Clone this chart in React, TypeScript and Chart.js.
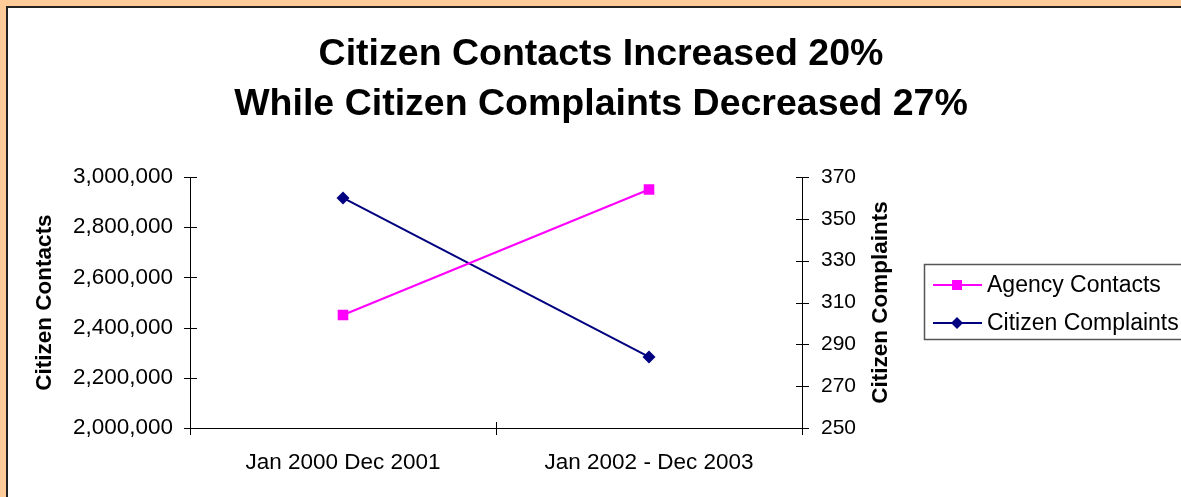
import React, { useEffect, useRef } from 'react';
import { Chart, registerables } from 'chart.js';

Chart.register(...registerables);

// ---- data ----
const categories = ['Jan 2000 Dec 2001', 'Jan 2002 - Dec 2003'];
const agencyContacts = [2450000, 2950000];
const citizenComplaints = [360, 284];
const contactsAxis = { min: 2000000, max: 3000000, step: 200000 };
const complaintsAxis = { min: 250, max: 370, step: 20 };
const titleLines = ['Citizen Contacts Increased 20%', 'While Citizen Complaints Decreased 27%'];
const leftAxisTitle = 'Citizen Contacts';
const rightAxisTitle = 'Citizen Complaints';
const seriesNames = ['Agency Contacts', 'Citizen Complaints'];

const FONT = '"Liberation Sans", Arial, Helvetica, sans-serif';
const PINK = '#FF00FF';
const NAVY = '#000080';

const W = 1181;
const H = 497;

const decorPlugin = {
  id: 'decor',
  beforeDraw(chart: any) {
    const { ctx, width, height } = chart;
    ctx.save();
    ctx.fillStyle = '#FFCC99';
    ctx.fillRect(0, 0, width, height);
    ctx.fillStyle = '#FFFFFF';
    ctx.fillRect(7, 7, width, height);
    ctx.strokeStyle = '#222222';
    ctx.lineWidth = 2;
    ctx.beginPath();
    ctx.moveTo(7, height);
    ctx.lineTo(7, 7);
    ctx.lineTo(width, 7);
    ctx.stroke();
    ctx.restore();
  },
  afterDraw(chart: any) {
    const { ctx, chartArea } = chart;
    const y = chart.scales.y;
    const y1 = chart.scales.y1;
    const x = chart.scales.x;
    ctx.save();
    // title
    ctx.fillStyle = '#000';
    ctx.font = `bold 37.5px ${FONT}`;
    ctx.textAlign = 'center';
    ctx.textBaseline = 'middle';
    ctx.fillText(titleLines[0], 601, 55);
    ctx.fillText(titleLines[1], 601, 105);

    // axis titles (both read bottom-to-top)
    const midY = (chartArea.top + chartArea.bottom) / 2;
    ctx.font = `bold 22.5px ${FONT}`;
    ctx.save();
    ctx.translate(44.5, midY);
    ctx.rotate(-Math.PI / 2);
    ctx.fillText(leftAxisTitle, 0, 0);
    ctx.restore();
    ctx.save();
    ctx.translate(881, midY);
    ctx.rotate(-Math.PI / 2);
    ctx.fillText(rightAxisTitle, 0, 0);
    ctx.restore();

    // cross tick marks
    ctx.strokeStyle = '#000';
    ctx.lineWidth = 1;
    ctx.beginPath();
    y.ticks.forEach((t: any) => {
      const py = Math.round(y.getPixelForValue(t.value)) + 0.5;
      ctx.moveTo(chartArea.left - 6, py);
      ctx.lineTo(chartArea.left + 7, py);
    });
    y1.ticks.forEach((t: any) => {
      const py = Math.round(y1.getPixelForValue(t.value)) + 0.5;
      ctx.moveTo(chartArea.right - 6, py);
      ctx.lineTo(chartArea.right + 7, py);
    });
    for (let i = 0; i <= categories.length; i++) {
      const px = Math.round(x.getPixelForValue(i - 0.5)) + 0.5;
      ctx.moveTo(px, chartArea.bottom - 6);
      ctx.lineTo(px, chartArea.bottom + 7);
    }
    ctx.stroke();

    // legend
    const lx = 924.5, ly = 264.5;
    ctx.strokeStyle = '#555';
    ctx.lineWidth = 1.5;
    ctx.strokeRect(lx, ly, 400, 75);
    const rows = [285, 323];
    chart.data.datasets.forEach((ds: any, i: number) => {
      const ry = rows[i];
      ctx.strokeStyle = ds.borderColor;
      ctx.lineWidth = 2;
      ctx.beginPath();
      ctx.moveTo(933, ry);
      ctx.lineTo(982, ry);
      ctx.stroke();
      ctx.fillStyle = ds.pointBackgroundColor;
      ctx.beginPath();
      if (ds.pointStyle === 'rect') {
        ctx.rect(957 - 5, ry - 5, 10, 10);
      } else {
        ctx.moveTo(957 - 6, ry);
        ctx.lineTo(957, ry - 6);
        ctx.lineTo(957 + 6, ry);
        ctx.lineTo(957, ry + 6);
        ctx.closePath();
      }
      ctx.fill();
      ctx.fillStyle = '#000';
      ctx.font = `23px ${FONT}`;
      ctx.textAlign = 'left';
      ctx.textBaseline = 'middle';
      ctx.fillText(ds.label, 987, ry + 1);
    });
    ctx.restore();
  },
};

export default function App() {
  const ref = useRef<HTMLCanvasElement | null>(null);

  useEffect(() => {
    if (!ref.current) return;
    const chart = new Chart(ref.current, {
      type: 'line',
      data: {
        labels: categories,
        datasets: [
          {
            label: seriesNames[0],
            data: agencyContacts,
            yAxisID: 'y',
            borderColor: PINK,
            backgroundColor: PINK,
            pointBackgroundColor: PINK,
            pointBorderColor: PINK,
            pointStyle: 'rect',
            pointRadius: 7.5,
            pointBorderWidth: 0,
            borderWidth: 2,
            tension: 0,
          },
          {
            label: seriesNames[1],
            data: citizenComplaints,
            yAxisID: 'y1',
            borderColor: NAVY,
            backgroundColor: NAVY,
            pointBackgroundColor: NAVY,
            pointBorderColor: NAVY,
            pointStyle: 'rectRot',
            pointRadius: 6.5,
            pointBorderWidth: 0,
            borderWidth: 2,
            tension: 0,
          },
        ],
      },
      options: {
        responsive: false,
        animation: false,
        layout: { padding: { top: 177, left: 0, right: 0, bottom: 0 } },
        plugins: {
          legend: { display: false },
          title: { display: false },
          tooltip: { enabled: false },
        },
        scales: {
          x: {
            type: 'category',
            offset: true,
            grid: { display: false, drawTicks: false },
            border: { display: true, color: '#000', width: 1 },
            ticks: {
              color: '#000',
              font: { family: FONT, size: 22.5 },
              padding: 21,
              maxRotation: 0,
            },
            afterFit: (s: any) => {
              s.height = 69;
            },
          },
          y: {
            position: 'left',
            min: contactsAxis.min,
            max: contactsAxis.max,
            grid: { display: false, drawTicks: false },
            border: { display: true, color: '#000', width: 1 },
            ticks: {
              stepSize: contactsAxis.step,
              color: '#000',
              font: { family: FONT, size: 22.5 },
              padding: 17,
              callback: (v: any) => Number(v).toLocaleString('en-US'),
            },
            afterFit: (s: any) => {
              s.width = 190;
            },
          },
          y1: {
            position: 'right',
            min: complaintsAxis.min,
            max: complaintsAxis.max,
            grid: { display: false, drawTicks: false },
            border: { display: true, color: '#000', width: 1 },
            ticks: {
              stepSize: complaintsAxis.step,
              color: '#000',
              font: { family: FONT, size: 21 },
              padding: 19,
            },
            afterFit: (s: any) => {
              s.width = W - 802;
            },
          },
        },
      },
      plugins: [decorPlugin],
    });
    return () => chart.destroy();
  }, []);

  return (
    <div style={{ position: 'fixed', left: 0, top: 0, width: W, height: H, overflow: 'hidden' }}>
      <canvas ref={ref} width={W} height={H} style={{ display: 'block', width: W, height: H }} />
    </div>
  );
}
